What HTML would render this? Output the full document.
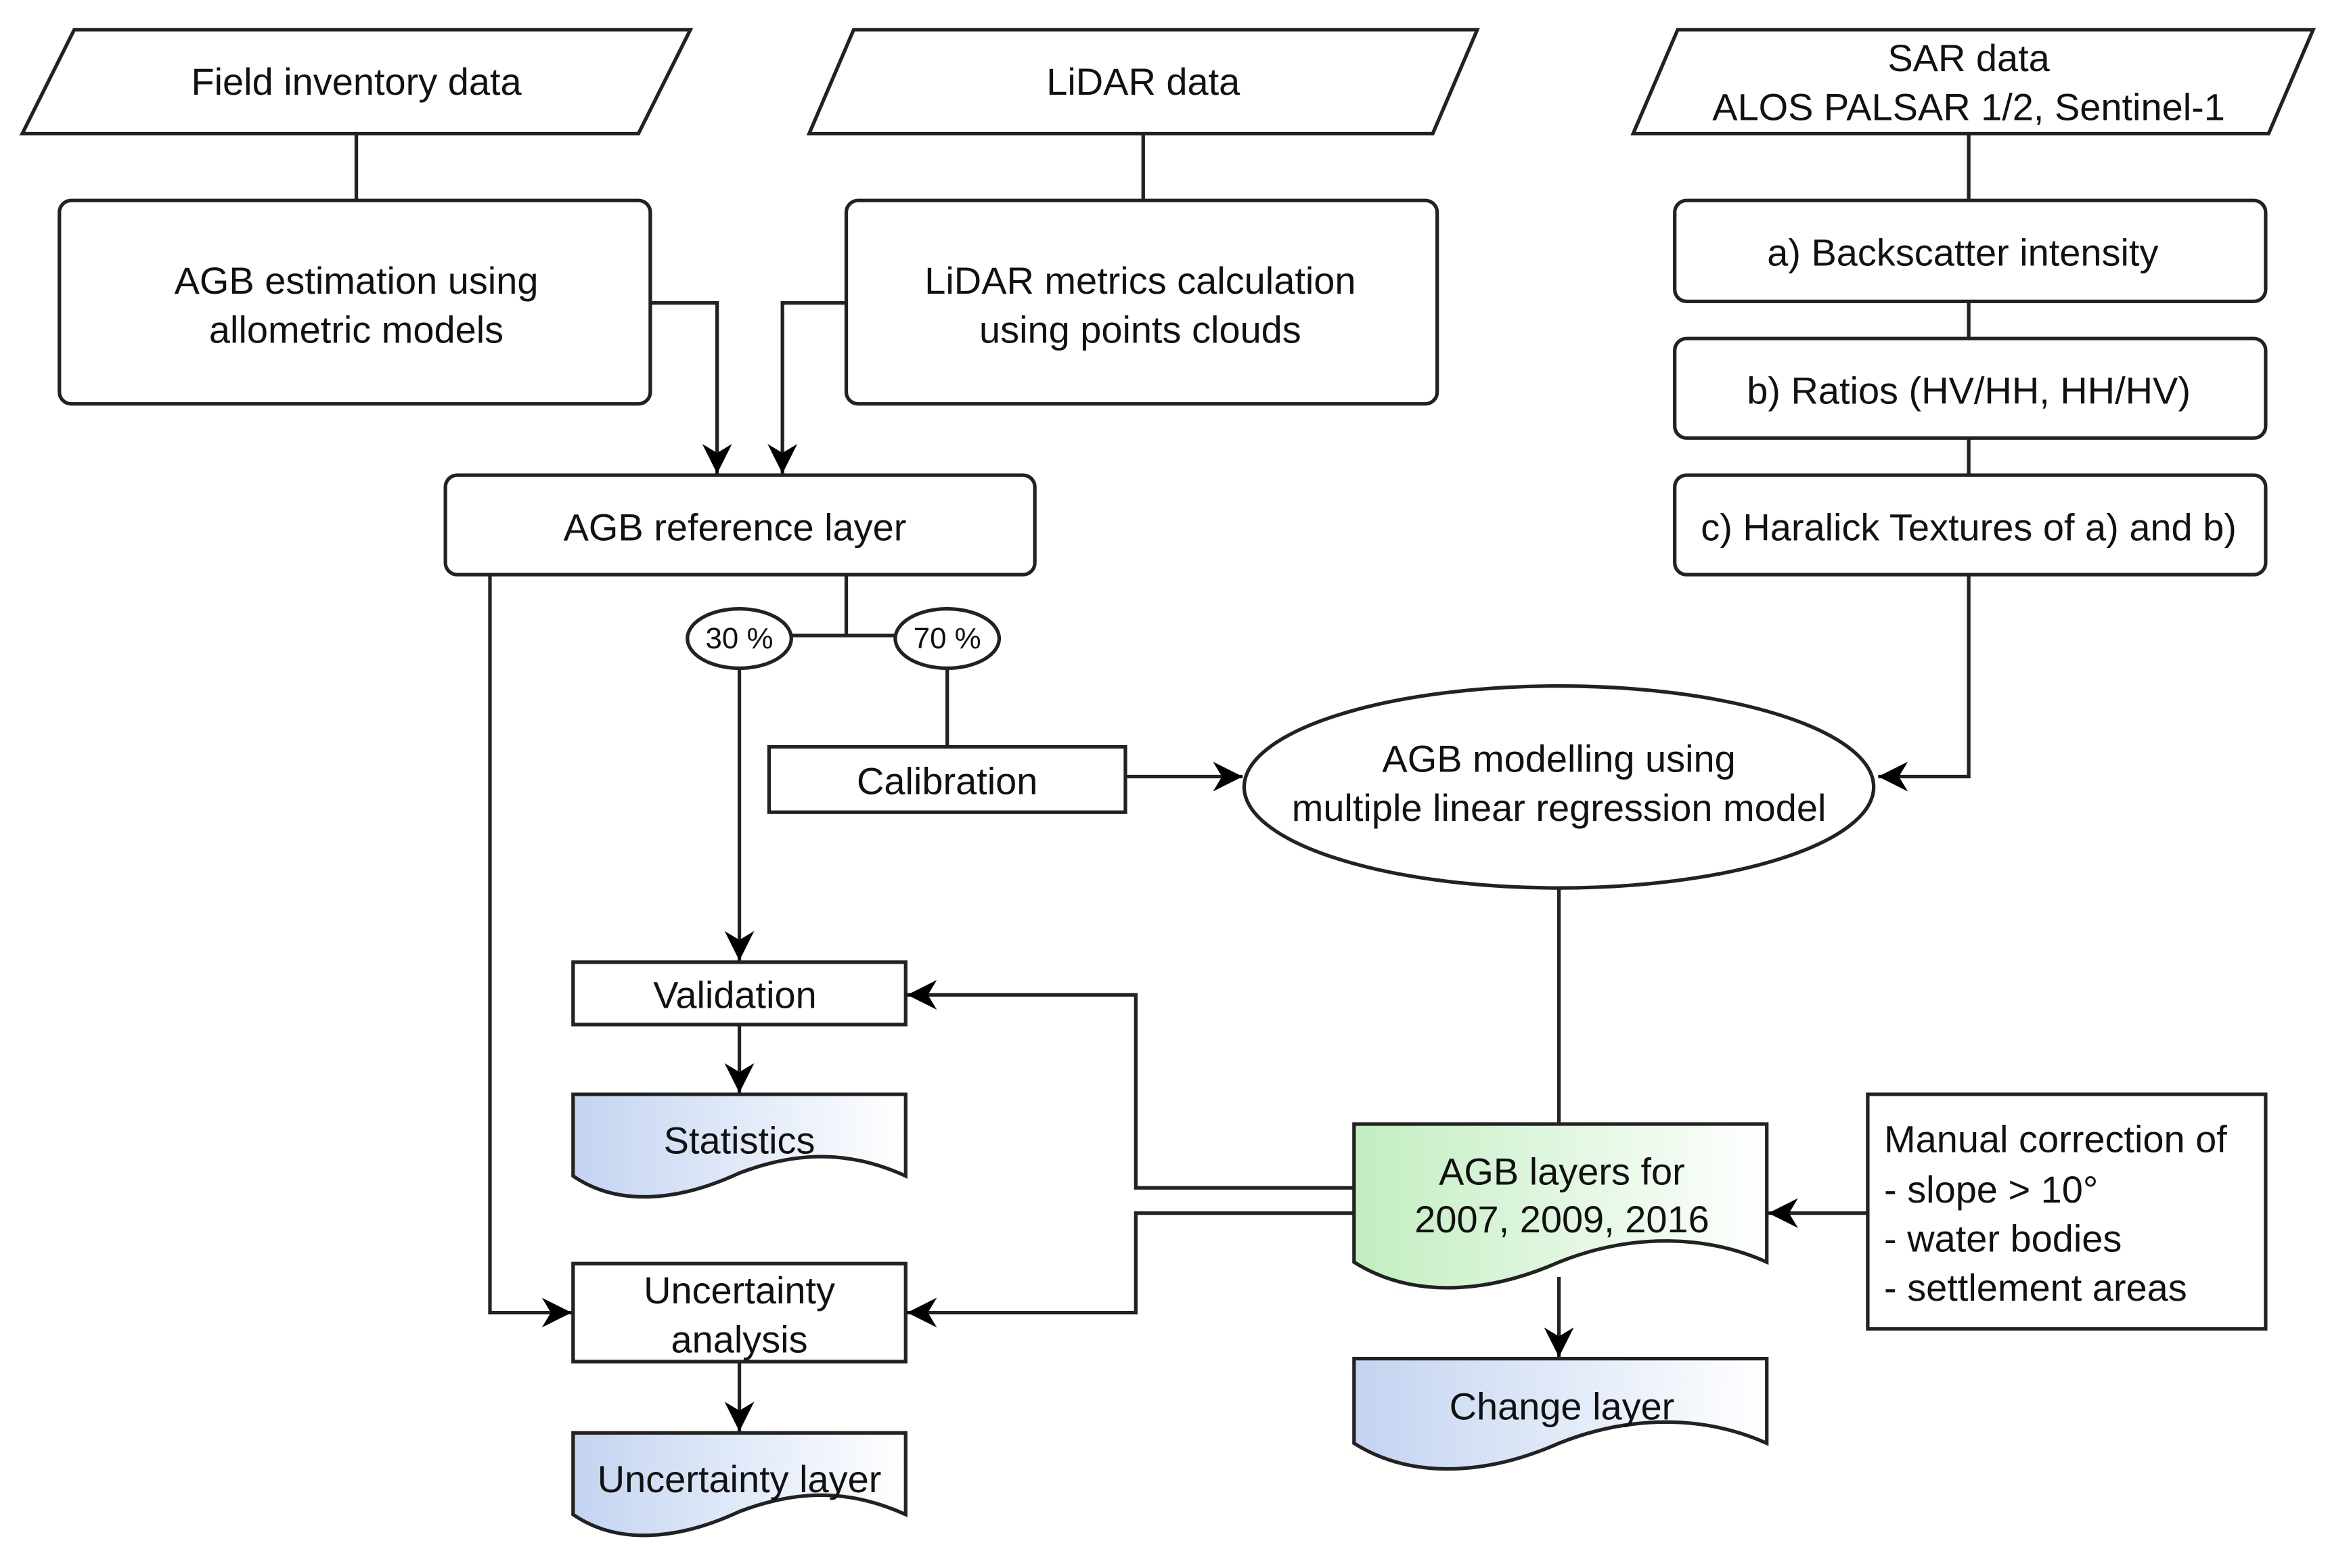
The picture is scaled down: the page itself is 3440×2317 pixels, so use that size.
<!DOCTYPE html>
<html><head><meta charset="utf-8"><style>
html,body{margin:0;padding:0;background:#fff}
svg{display:block}
text{font-family:"Liberation Sans",Arial,sans-serif;font-size:25.5px;fill:#111;dominant-baseline:central}
</style></head><body>
<svg width="3440" height="2317" viewBox="0 0 1568 1056" preserveAspectRatio="none" xmlns="http://www.w3.org/2000/svg">
<defs>
<marker id="a" markerWidth="24" markerHeight="20" refX="10" refY="5" orient="auto" markerUnits="userSpaceOnUse" viewBox="0 0 10 10">
<path d="M0,0 L10,5 L0,10 L3,5 z" fill="#000"/></marker>
<linearGradient id="b" x1="0" x2="1" y1="0" y2="0"><stop offset="0" stop-color="#c3d4f1"/><stop offset="1" stop-color="#fff"/></linearGradient>
<linearGradient id="g" x1="0" x2="1" y1="0" y2="0"><stop offset="0" stop-color="#c2eec0"/><stop offset="1" stop-color="#fff"/></linearGradient>
</defs>
<g fill="none" stroke="#222" stroke-width="2.4">
<polygon points="50,20 465,20 430,90 15,90" fill="#fff"/>
<polygon points="575,20 995,20 965,90 545,90" fill="#fff"/>
<polygon points="1130,20 1558,20 1528,90 1100,90" fill="#fff"/>
<line x1="240" y1="90" x2="240" y2="135"/>
<line x1="770" y1="90" x2="770" y2="135"/>
<line x1="1326" y1="90" x2="1326" y2="135"/>
<rect x="40" y="135" width="398" height="137" rx="8" fill="#fff"/>
<rect x="570" y="135" width="398" height="137" rx="8" fill="#fff"/>
<rect x="1128" y="135" width="398" height="68" rx="8" fill="#fff"/>
<rect x="1128" y="228" width="398" height="67" rx="8" fill="#fff"/>
<rect x="1128" y="320" width="398" height="67" rx="8" fill="#fff"/>
<line x1="1326" y1="203" x2="1326" y2="228"/>
<line x1="1326" y1="295" x2="1326" y2="320"/>
<polyline points="1326,387 1326,523 1265,523" marker-end="url(#a)"/>
<rect x="300" y="320" width="397" height="67" rx="8" fill="#fff"/>
<polyline points="438,204 483,204 483,319" marker-end="url(#a)"/>
<polyline points="570,204 527,204 527,319" marker-end="url(#a)"/>
<polyline points="570,387 570,428"/>
<line x1="530" y1="428" x2="605" y2="428"/>
<ellipse cx="498" cy="430" rx="35" ry="20" fill="#fff"/>
<ellipse cx="638" cy="430" rx="35" ry="20" fill="#fff"/>
<line x1="638" y1="450" x2="638" y2="503"/>
<rect x="518" y="503" width="240" height="44" fill="#fff"/>
<line x1="758" y1="523" x2="837" y2="523" marker-end="url(#a)"/>
<ellipse cx="1050" cy="530" rx="212" ry="68" fill="#fff"/>
<line x1="498" y1="450" x2="498" y2="647" marker-end="url(#a)"/>
<rect x="386" y="648" width="224" height="42" fill="#fff"/>
<line x1="498" y1="690" x2="498" y2="736" marker-end="url(#a)"/>
<path d="M386,737 H610 V792 C575,776 540,774 498,790 C455,810 415,812 386,792 Z" fill="url(#b)"/>
<polyline points="330,387 330,884 385,884" marker-end="url(#a)"/>
<rect x="386" y="851" width="224" height="66" fill="#fff"/>
<line x1="498" y1="917" x2="498" y2="964" marker-end="url(#a)"/>
<path d="M386,965 H610 V1020 C575,1004 540,1002 498,1018 C455,1038 415,1040 386,1020 Z" fill="url(#b)"/>
<line x1="1050" y1="598" x2="1050" y2="757"/>
<path d="M912,757 H1190 V850 C1150,832 1100,830 1050,850 C1000,872 950,874 912,850 Z" fill="url(#g)"/>
<polyline points="912,800 765,800 765,670 611,670" marker-end="url(#a)"/>
<polyline points="912,817 765,817 765,884 611,884" marker-end="url(#a)"/>
<line x1="1050" y1="860" x2="1050" y2="914" marker-end="url(#a)"/>
<path d="M912,915 H1190 V972 C1150,954 1100,952 1050,972 C1000,994 950,996 912,972 Z" fill="url(#b)"/>
<rect x="1258" y="737" width="268" height="158" fill="#fff"/>
<line x1="1258" y1="817" x2="1191" y2="817" marker-end="url(#a)"/>
</g>
<g text-anchor="middle">
<text x="240" y="55">Field inventory data</text>
<text x="770" y="55">LiDAR data</text>
<text x="1326" y="39">SAR data</text>
<text x="1326" y="72">ALOS PALSAR 1/2, Sentinel-1</text>
<text x="240" y="189">AGB estimation using</text>
<text x="240" y="222">allometric models</text>
<text x="768" y="189">LiDAR metrics calculation</text>
<text x="768" y="222">using points clouds</text>
<text x="1322" y="170">a) Backscatter intensity</text>
<text x="1326" y="263">b) Ratios (HV/HH, HH/HV)</text>
<text x="1326" y="355">c) Haralick Textures of a) and b)</text>
<text x="495" y="355">AGB reference layer</text>
<text x="498" y="430" style="font-size:20px">30 %</text>
<text x="638" y="430" style="font-size:20px">70 %</text>
<text x="638" y="526">Calibration</text>
<text x="1050" y="511">AGB modelling using</text>
<text x="1050" y="544">multiple linear regression model</text>
<text x="495" y="670">Validation</text>
<text x="498" y="768">Statistics</text>
<text x="498" y="869">Uncertainty</text>
<text x="498" y="902">analysis</text>
<text x="498" y="996">Uncertainty layer</text>
<text x="1052" y="789">AGB layers for</text>
<text x="1052" y="821">2007, 2009, 2016</text>
<text x="1052" y="947">Change layer</text>
</g>
<g>
<text x="1269" y="767">Manual correction of</text>
<text x="1269" y="801">- slope &gt; 10°</text>
<text x="1269" y="834">- water bodies</text>
<text x="1269" y="867">- settlement areas</text>
</g>
</svg>
</body></html>
